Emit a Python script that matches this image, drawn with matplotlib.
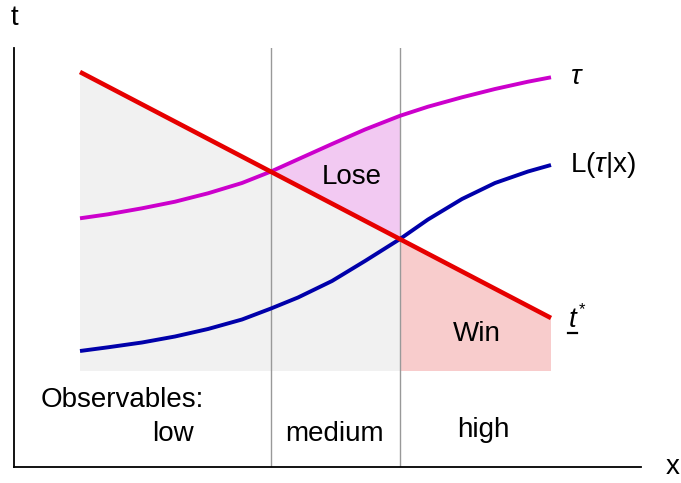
import numpy as np
import matplotlib.pyplot as plt

plt.rcParams['font.family'] = ['Liberation Sans', 'DejaVu Sans']
plt.rcParams['mathtext.fontset'] = 'custom'
plt.rcParams['mathtext.it'] = 'Liberation Sans:italic'
plt.rcParams['mathtext.rm'] = 'Liberation Sans'

# data (x along the horizontal axis, t up the vertical axis)
x_tau = [66, 94, 128, 161, 194, 228, 257, 284, 318, 351, 386, 414, 448, 481, 514, 537]
t_tau = [248.7, 252.7, 258.7, 265.3, 273.7, 284, 295.5, 307.7, 323, 337.5,
         351.2, 360.3, 369.7, 378, 385.3, 389.7]

x_L = [66, 94, 128, 161, 194, 228, 257, 284, 318, 351, 386, 414, 448, 481, 514, 537]
t_L = [116, 119.7, 124.5, 130.5, 138, 147.5, 158.5, 169.5, 186, 206,
       228, 247.5, 268, 284, 295.5, 302]

x_star = [66, 537]
t_star = [395, 149]

x_cuts = [257, 386]     # low | medium | high
t_floor = 96
categories = ['low', 'medium', 'high']

fs = 20
fig = plt.figure(figsize=(6.81, 4.83), dpi=100)
ax = fig.add_axes([14/681, 16/483, 627/681, 419/483])
ax.set_xlim(0, 627)
ax.set_ylim(0, 419)
for s in ['top', 'right']:
    ax.spines[s].set_visible(False)
ax.spines['left'].set_linewidth(1.3)
ax.spines['bottom'].set_linewidth(1.3)
ax.set_xticks([])
ax.set_yticks([])

red_at = lambda xx: np.interp(xx, x_star, t_star)
x_tau = np.array(x_tau)
t_tau = np.array(t_tau)

# grey: below t* over low + medium
gx = [x_star[0], x_star[0], x_cuts[1], x_cuts[1]]
gy = [t_floor, t_star[0], red_at(x_cuts[1]), t_floor]
ax.fill(gx, gy, color='#f1f1f1', lw=0, zorder=1)

# lose: between tau and t* in medium
m = (x_tau >= x_cuts[0]) & (x_tau <= x_cuts[1])
lx = list(x_tau[m]) + [x_cuts[1], x_cuts[0]]
ly = list(t_tau[m]) + [red_at(x_cuts[1]), red_at(x_cuts[0])]
ax.fill(lx, ly, color='#f2c9f2', lw=0, zorder=1)

# win: below t* in high
wx = [x_cuts[1], x_cuts[1], x_star[1], x_star[1]]
wy = [t_floor, red_at(x_cuts[1]), t_star[1], t_floor]
ax.fill(wx, wy, color='#f8cccc', lw=0, zorder=1)

for xc in x_cuts:
    ax.axvline(xc, color='#999999', lw=1, zorder=2)

ax.plot(x_tau, t_tau, color='#cc00cc', lw=2.8, zorder=3, solid_capstyle='butt')
ax.plot(x_L, t_L, color='#0000aa', lw=2.8, zorder=3, solid_capstyle='butt')
ax.plot(x_star, t_star, color='#e60000', lw=3.3, zorder=4, solid_capstyle='butt')

ax.text(0, 449, 't', fontsize=fs, ha='center', va='center', clip_on=False)
ax.text(659, 0, 'x', fontsize=fs, ha='center', va='center', clip_on=False)
ax.text(556, 390, r'$\tau$', fontsize=fs, ha='left', va='center')
ax.text(556, 302, r'L($\tau$|x)', fontsize=fs, ha='left', va='center')
ax.text(555, 147, 't', fontsize=fs, style='italic', ha='left', va='center')
ax.text(565, 165, '*', fontsize=12, ha='left', va='top')
ax.plot([554, 563], [134.5, 134.5], color='black', lw=1.6, clip_on=False)

ax.text(338, 290, 'Lose', fontsize=fs, ha='center', va='center', zorder=5)
ax.text(463, 133, 'Win', fontsize=fs, ha='center', va='center', zorder=5)
ax.text(27, 67, 'Observables:', fontsize=fs, ha='left', va='center')
ax.text(159, 33, categories[0], fontsize=fs, ha='center', va='center')
ax.text(321, 33, categories[1], fontsize=fs, ha='center', va='center')
ax.text(469, 37, categories[2], fontsize=fs, ha='center', va='center')

fig.savefig('out.png', dpi=100)
